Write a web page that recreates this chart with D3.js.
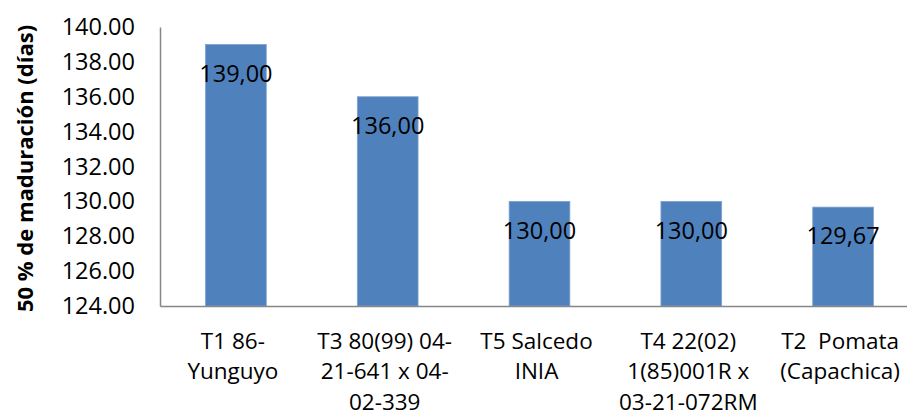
<!DOCTYPE html>
<html>
<head>
<meta charset="utf-8">
<script src="https://cdn.jsdelivr.net/npm/d3@7"></script>
<style>
  body { margin: 0; background: #fff; }
  text { font-family: "Open Sans", sans-serif; }
</style>
</head>
<body>
<div id="chart"></div>
<script>
/* DATA */
const categories = [
  ["T1 86-", "Yunguyo"],
  ["T3 80(99) 04-", "21-641 x 04-", "02-339"],
  ["T5 Salcedo", "INIA"],
  ["T4 22(02)", "1(85)001R x", "03-21-072RM"],
  ["T2  Pomata", "(Capachica)"]
];
const values = [139.00, 136.00, 130.00, 130.00, 129.67];
const yTicks = [124, 126, 128, 130, 132, 134, 136, 138, 140];
const yTitle = "50 % de maduración (días)";

/* CONSTANTS */
const width = 907,
  height = 417,
  margin = { top: 27, bottom: 111, left: 160, right: -12 };

const svg = d3.select("#chart")
  .append("svg")
  .attr("width", width)
  .attr("height", height);

// scales
const xScale = d3.scaleBand()
  .domain(d3.range(values.length))
  .range([margin.left, width - margin.right])
  .paddingInner(0.6)
  .paddingOuter(0.3);

const yScale = d3.scaleLinear()
  .domain([124, 140])
  .range([height - margin.bottom, margin.top]);

// bars
svg.selectAll("rect.bar")
  .data(values)
  .join("rect")
  .attr("class", "bar")
  .attr("x", (d, i) => xScale(i))
  .attr("width", xScale.bandwidth())
  .attr("y", d => yScale(d))
  .attr("height", d => yScale(124) - yScale(d))
  .attr("fill", "#4f81bd")
  .attr("stroke", "#7ea1cf")
  .attr("stroke-width", 0.8);

// data labels
svg.selectAll("text.value")
  .data(values)
  .join("text")
  .attr("class", "value")
  .attr("x", (d, i) => xScale(i) + xScale.bandwidth() / 2)
  .attr("y", d => yScale(d) + 29)
  .attr("dy", "0.35em")
  .attr("text-anchor", "middle")
  .attr("font-size", 23.5)
  .attr("fill", "#000")
  .text(d => d.toFixed(2).replace(".", ","));

// y axis
const yAxis = d3.axisLeft(yScale)
  .tickValues(yTicks)
  .tickSize(0)
  .tickPadding(25)
  .tickFormat(d => d.toFixed(2));

const yAxisGroup = svg.append("g")
  .attr("transform", `translate(${margin.left}, 0)`)
  .call(yAxis);
yAxisGroup.select(".domain").attr("stroke", "#868686").attr("stroke-width", 1.5);
yAxisGroup.selectAll(".tick text")
  .attr("font-size", 23.5)
  .attr("fill", "#000");

// x axis
const xAxis = d3.axisBottom(xScale).tickSize(0).tickFormat("");
const xAxisGroup = svg.append("g")
  .attr("transform", `translate(0, ${height - margin.bottom})`)
  .call(xAxis);
xAxisGroup.select(".domain").attr("stroke", "#868686").attr("stroke-width", 1.5);

// category labels (wrapped manually)
const catLabels = svg.selectAll("text.cat")
  .data(categories)
  .join("text")
  .attr("class", "cat")
  .attr("text-anchor", "middle")
  .attr("font-size", 22.5)
  .attr("fill", "#000")
  .style("white-space", "pre")
  .attr("transform", (d, i) => `translate(${xScale(i) + xScale.bandwidth() / 2 - 3}, ${height - margin.bottom + 35})`);

catLabels.selectAll("tspan")
  .data(d => d)
  .join("tspan")
  .attr("x", 0)
  .attr("y", (d, i) => i * 30.5)
  .attr("dy", "0.35em")
  .text(d => d);

// y title
svg.append("text")
  .attr("transform", `translate(33, ${(margin.top + height - margin.bottom) / 2 + 2}) rotate(-90)`)
  .attr("text-anchor", "middle")
  .attr("font-size", 22)
  .attr("font-weight", "bold")
  .attr("fill", "#000")
  .text(yTitle);
</script>
</body>
</html>
